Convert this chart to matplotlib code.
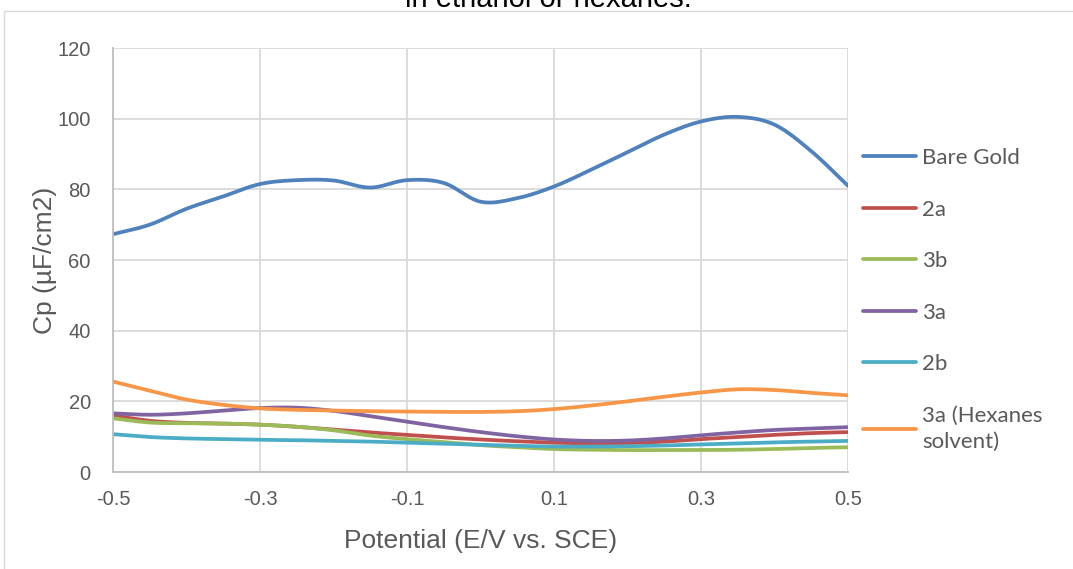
import numpy as np
import matplotlib
matplotlib.use("Agg")
import matplotlib.pyplot as plt
from matplotlib.patches import Rectangle

potential = [-0.5, -0.45, -0.4, -0.35, -0.3, -0.25, -0.2, -0.15, -0.1, -0.05, 0.0,
             0.05, 0.1, 0.15, 0.2, 0.25, 0.3, 0.35, 0.4, 0.45, 0.5]
bare_gold = [67.3, 70.0, 74.5, 78.0, 81.5, 82.6, 82.5, 80.5, 82.6, 81.8, 76.5,
             77.5, 80.8, 85.5, 90.5, 95.5, 99.2, 100.5, 98.3, 90.8, 81.0]
s_2a = [16.0, 14.5, 13.9, 13.7, 13.4, 12.8, 12.0, 11.2, 10.5, 9.8, 9.2,
        8.7, 8.3, 8.1, 8.2, 8.6, 9.3, 9.9, 10.5, 11.0, 11.3]
s_3b = [15.2, 14.0, 13.8, 13.7, 13.4, 12.8, 11.8, 10.3, 9.3, 8.5, 7.6,
        7.0, 6.5, 6.3, 6.2, 6.2, 6.2, 6.3, 6.5, 6.8, 7.0]
s_3a = [16.6, 16.2, 16.6, 17.4, 18.1, 18.2, 17.3, 15.8, 14.2, 12.7, 11.3,
        10.1, 9.2, 8.8, 8.9, 9.5, 10.4, 11.2, 11.9, 12.3, 12.7]
s_2b = [10.7, 9.9, 9.5, 9.3, 9.1, 9.0, 8.8, 8.6, 8.3, 8.0, 7.7,
        7.4, 7.2, 7.2, 7.3, 7.5, 7.8, 8.1, 8.4, 8.6, 8.8]
s_3a_hex = [25.6, 23.0, 20.5, 19.0, 18.0, 17.6, 17.4, 17.2, 17.1, 17.0, 17.0,
            17.2, 17.8, 18.8, 20.0, 21.3, 22.5, 23.4, 23.2, 22.4, 21.7]

labels = ["Bare Gold", "2a", "3b", "3a", "2b", "3a (Hexanes\nsolvent)"]
series = [bare_gold, s_2a, s_3b, s_3a, s_2b, s_3a_hex]
colors = ["#4F81BD", "#C0504D", "#9BBB59", "#8064A2", "#4BACC6", "#F79646"]
x_ticks = [-0.5, -0.3, -0.1, 0.1, 0.3, 0.5]
y_ticks = [0, 20, 40, 60, 80, 100, 120]


def smooth(x, y, n=20):
    # Catmull-Rom rendering (like Excel's smoothed line)
    x = np.asarray(x, float); y = np.asarray(y, float)
    px = np.concatenate([[2 * x[0] - x[1]], x, [2 * x[-1] - x[-2]]])
    py = np.concatenate([[2 * y[0] - y[1]], y, [2 * y[-1] - y[-2]]])
    xs, ys = [], []
    t = np.linspace(0, 1, n, endpoint=False)
    for i in range(1, len(px) - 2):
        for arr, out in ((px, xs), (py, ys)):
            p0, p1, p2, p3 = arr[i - 1], arr[i], arr[i + 1], arr[i + 2]
            out.append(0.5 * ((2 * p1) + (-p0 + p2) * t + (2 * p0 - 5 * p1 + 4 * p2 - p3) * t ** 2
                              + (-p0 + 3 * p1 - 3 * p2 + p3) * t ** 3))
    xs.append([x[-1]]); ys.append([y[-1]])
    return np.concatenate(xs), np.concatenate(ys)


W, H = 1073, 569
fig = plt.figure(figsize=(W / 100, H / 100), dpi=100)
fig.patch.set_facecolor("white")
ax = fig.add_axes([113 / W, 1 - 472 / H, (848 - 113) / W, (472 - 48) / H])

for s, c, lab in zip(series, colors, labels):
    xs, ys = smooth(potential, s)
    ax.plot(xs, ys, color=c, lw=2.7, label=lab, solid_capstyle="round")

ax.set_xlim(-0.5, 0.5)
ax.set_ylim(0, 120)
ax.set_xticks(x_ticks)
ax.set_xticklabels([f"{v:.1f}" for v in x_ticks])
ax.set_yticks(y_ticks)
ax.grid(True, color="#D9D9D9", lw=1.3)
ax.set_axisbelow(True)
for sp in ["top", "right"]:
    ax.spines[sp].set_visible(False)
for sp in ["left", "bottom"]:
    ax.spines[sp].set_color("#BFBFBF")
    ax.spines[sp].set_linewidth(1.3)
ax.tick_params(length=0, labelsize=14.5, labelcolor="#595959")
ax.tick_params(axis="x", pad=13)
ax.tick_params(axis="y", pad=16)
for lbl in ax.get_xticklabels() + ax.get_yticklabels():
    lbl.set_family("Liberation Sans")

ax.set_xlabel("Potential (E/V vs. SCE)", fontsize=19, color="#595959",
              family="Liberation Sans", va="center")
ax.xaxis.set_label_coords(0.5, -(541 - 472) / 424)
ax.set_ylabel("Cp (µF/cm2)", fontsize=19, color="#595959",
              family="Liberation Sans", va="center")
ax.yaxis.set_label_coords(-(113 - 45) / 735, 0.5)

leg = fig.legend(loc="upper left", bbox_to_anchor=(843 / W, 1 - 128 / H),
                 frameon=False, handlelength=2.4, handletextpad=0.25,
                 labelspacing=1.42, prop={"family": "Lato", "size": 16})
for t in leg.get_texts():
    t.set_color("#595959")
    t.set_linespacing(1.35)

fig.text(548 / W, 1 - 7 / H, "in ethanol or hexanes.", ha="center", va="baseline",
         fontsize=21, color="#000000", family="Liberation Sans")

fig.patches.append(Rectangle((4 / W, -0.05), 1.1, 1 - 11 / H + 0.05, transform=fig.transFigure,
                             fill=False, edgecolor="#D9D9D9", lw=1.0))

fig.savefig("out.png", dpi=100)
